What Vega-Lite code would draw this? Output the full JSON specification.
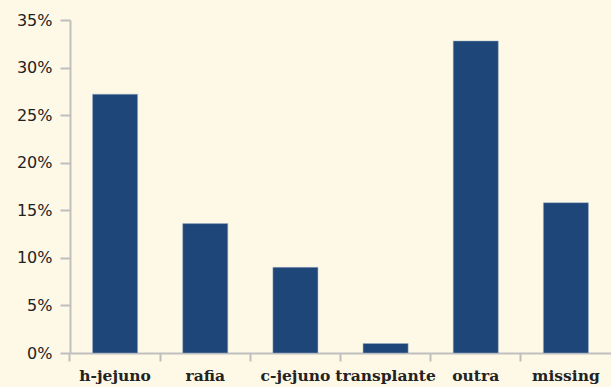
{
  "$schema": "https://vega.github.io/schema/vega-lite/v6.json",
  "width": 541,
  "height": 333,
  "autosize": {"type": "none"},
  "padding": {"left": 70, "top": 20, "right": 0, "bottom": 34},
  "background": "#FEF8E6",
  "config": {
    "view": {"stroke": null},
    "axis": {"grid": false, "domainColor": "#BFBFBF", "tickColor": "#BFBFBF", "domainWidth": 2, "tickWidth": 2, "labelColor": "#222222"}
  },
  "data": {
    "values": [
      {"cat": "h-jejuno", "v": 0.272},
      {"cat": "rafia", "v": 0.136},
      {"cat": "c-jejuno", "v": 0.090},
      {"cat": "transplante", "v": 0.010},
      {"cat": "outra", "v": 0.328},
      {"cat": "missing", "v": 0.158}
    ]
  },
  "mark": {"type": "bar", "color": "#1F4679", "stroke": "#9FB3C8", "strokeWidth": 0.5},
  "encoding": {
    "x": {
      "field": "cat", "type": "nominal", "sort": null,
      "scale": {"paddingInner": 0.5, "paddingOuter": 0.25},
      "axis": {"title": null, "labelAngle": 0, "bandPosition": -0.5, "tickSize": 8, "labelPadding": 7,
               "labelFont": "DejaVu Serif", "labelFontSize": 15.5, "labelFontWeight": "bold"}
    },
    "y": {
      "field": "v", "type": "quantitative",
      "scale": {"domain": [0, 0.35], "nice": false},
      "axis": {"title": null, "values": [0, 0.05, 0.1, 0.15, 0.2, 0.25, 0.3, 0.35], "format": ".0%",
               "tickSize": 10, "labelPadding": 8, "labelFont": "DejaVu Sans", "labelFontSize": 16}
    }
  }
}
